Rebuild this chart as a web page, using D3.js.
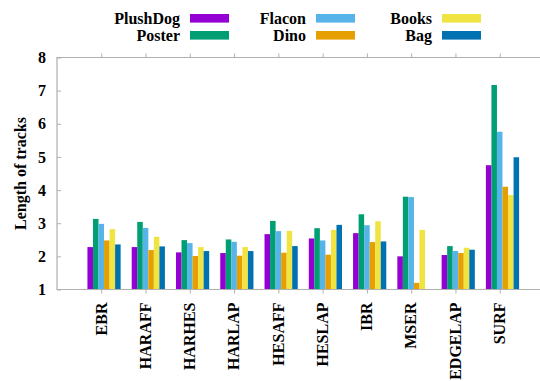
<!DOCTYPE html>
<html>
<head>
<meta charset="utf-8">
<script src="https://cdn.jsdelivr.net/npm/d3@7"></script>
<style>
  html, body { margin: 0; padding: 0; background: #fff; }
  svg { display: block; font-family: "Liberation Serif", "Times New Roman", serif; font-weight: bold; }
</style>
</head>
<body>
<svg id="chart" width="540" height="381"></svg>
<script>
// Detector names along the x axis
const categories = ["EBR", "HARAFF", "HARHES", "HARLAP", "HESAFF", "HESLAP", "IBR", "MSER", "EDGELAP", "SURF"];

// Average track length per sequence, one array per series (null = no bar)
const plushDog = [2.28, 2.28, 2.12, 2.10, 2.67, 2.54, 2.70, 2.00, 2.04, 4.75];
const poster   = [3.13, 3.04, 2.49, 2.51, 3.07, 2.85, 3.27, 3.80, 2.31, 7.17];
const flacon   = [2.98, 2.86, 2.40, 2.44, 2.76, 2.48, 2.94, 3.79, 2.16, 5.76];
const dino     = [2.48, 2.19, 2.01, 2.02, 2.11, 2.05, 2.43, 1.20, 2.10, 4.10];
const books    = [2.82, 2.59, 2.28, 2.28, 2.77, 2.80, 3.06, 2.80, 2.26, 3.85];
const bag      = [2.36, 2.30, 2.16, 2.16, 2.31, 2.95, 2.45, null, 2.20, 4.99];

const seriesNames  = ["PlushDog", "Poster", "Flacon", "Dino", "Books", "Bag"];
const seriesColors = ["#9400d3", "#009e73", "#56b4e9", "#e69f00", "#f0e442", "#0072b2"];
const seriesValues = [plushDog, poster, flacon, dino, books, bag];

const yTicks = [1, 2, 3, 4, 5, 6, 7, 8];

const svg = d3.select("#chart");
const plotLeft = 57, plotRight = 544, plotTop = 57.5, plotBottom = 289.5;

// Category slots are numbered 0..9, with one empty slot of padding on each side
const x = d3.scaleLinear().domain([-1, 10]).range([plotLeft, plotRight]);
const y = d3.scaleLinear().domain([1, 8]).range([plotBottom, plotTop]);

const slot = 0.125;              // width of one bar, in category units
const firstOffset = -2.5 * slot; // left edge of the first bar relative to the tick

// Bars
seriesValues.forEach((vals, s) => {
  svg.append("g")
    .selectAll("rect")
    .data(vals.map((v, i) => ({ v, i })).filter(d => d.v != null))
    .join("rect")
    .attr("x", d => x(d.i + firstOffset + s * slot))
    .attr("width", x(slot) - x(0))
    .attr("y", d => y(d.v))
    .attr("height", d => y(1) - y(d.v))
    .attr("fill", seriesColors[s]);
});

// Frame: left, top and bottom edges
const axisColor = "#b0b0b0";
svg.append("path")
  .attr("d", `M${plotRight},${plotTop}H${plotLeft}V${plotBottom}H${plotRight}`)
  .attr("fill", "none")
  .attr("stroke", axisColor)
  .attr("stroke-width", 1.2);

// Y axis: inward ticks and labels
const yAxis = d3.axisLeft(y).tickValues(yTicks).tickSize(-4).tickPadding(11).tickFormat(d3.format("d"));
const gy = svg.append("g").attr("transform", `translate(${plotLeft},0)`).call(yAxis);
gy.select(".domain").remove();
gy.selectAll(".tick line").attr("stroke", axisColor);
gy.selectAll(".tick text")
  .attr("font-size", 16)
  .attr("font-weight", "bold")
  .attr("fill", "#000")
  .attr("font-family", "Liberation Serif, serif");

// X axis bottom: outward ticks with rotated labels
const catIdx = categories.map((_, i) => i);
const xAxis = d3.axisBottom(x).tickValues(catIdx).tickSize(4).tickFormat(i => categories[i]);
const gx = svg.append("g").attr("transform", `translate(0,${plotBottom})`).call(xAxis);
gx.select(".domain").remove();
gx.selectAll(".tick line").attr("stroke", axisColor);
gx.selectAll(".tick text")
  .attr("font-size", 16)
  .attr("font-weight", "bold")
  .attr("fill", "#000")
  .attr("font-family", "Liberation Serif, serif")
  .attr("text-anchor", "end")
  .attr("transform", "rotate(-90)")
  .attr("x", -13)
  .attr("y", 0)
  .attr("dy", "0.3em");

// Mirrored ticks on the top edge
const gxTop = svg.append("g").attr("transform", `translate(0,${plotTop})`)
  .call(d3.axisTop(x).tickValues(catIdx).tickSize(4).tickFormat(""));
gxTop.select(".domain").remove();
gxTop.selectAll(".tick line").attr("stroke", axisColor);

// Y axis title
svg.append("text")
  .attr("transform", `translate(26,${(plotTop + plotBottom) / 2}) rotate(-90)`)
  .attr("text-anchor", "middle")
  .attr("font-size", 16)
  .attr("fill", "#000")
  .text("Length of tracks");

// Legend: three columns, two rows, label to the left of its swatch
const legendCols = [180, 306, 432];
const legendRows = [18.3, 35.3];
seriesNames.forEach((name, s) => {
  const col = Math.floor(s / 2), row = s % 2;
  const lx = legendCols[col], ly = legendRows[row];
  svg.append("text")
    .attr("x", lx).attr("y", ly).attr("dy", "0.33em")
    .attr("text-anchor", "end")
    .attr("font-size", 16)
    .attr("fill", "#000")
    .text(name);
  svg.append("rect")
    .attr("x", lx + 10).attr("y", ly - 4.3)
    .attr("width", 39).attr("height", 8.6)
    .attr("fill", seriesColors[s]);
});
</script>
</body>
</html>
